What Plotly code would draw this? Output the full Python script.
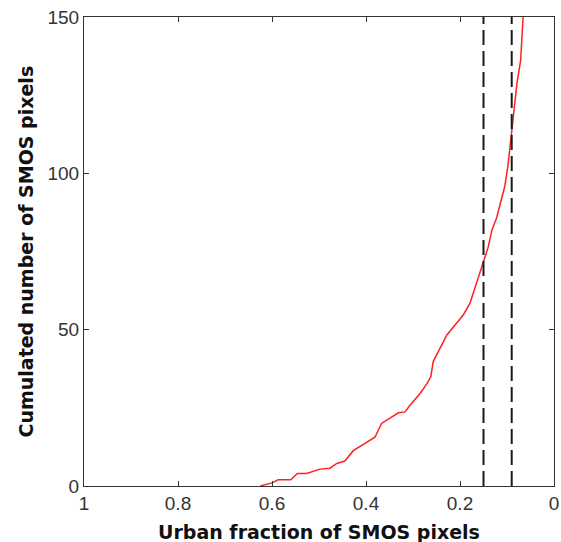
import plotly.graph_objects as go

# Urban fraction (x) and cumulated number of SMOS pixels (y)
urban_fraction = [0.625, 0.60, 0.587, 0.56, 0.546, 0.526, 0.498, 0.477, 0.462, 0.445,
                  0.427, 0.398, 0.381, 0.367, 0.349, 0.331, 0.317, 0.306, 0.285, 0.27,
                  0.262, 0.257, 0.228, 0.214, 0.193, 0.179, 0.164, 0.151, 0.14, 0.132,
                  0.122, 0.1145, 0.105, 0.098, 0.0917, 0.084, 0.0787, 0.071, 0.067, 0.065]
cumulated = [0, 1, 2, 2, 4, 4, 5.4, 5.7, 7.2, 8,
             11.3, 14, 15.6, 20, 21.6, 23.4, 23.7, 25.9, 29.6, 32.8,
             35, 39.8, 48.3, 51, 54.7, 58.4, 65.3, 71.4, 76.4, 81.9,
             85.8, 90.2, 95.7, 102.4, 111.2, 121.1, 128.9, 136.1, 145.5, 152]

thresholds = [0.15, 0.09]
y_span = [0, 150]

x_ticks = [1, 0.8, 0.6, 0.4, 0.2, 0]
x_ticktext = ["1", "0.8", "0.6", "0.4", "0.2", "0"]
y_ticks = [0, 50, 100, 150]
y_ticktext = ["0", "50", "100", "150"]

x_title = "Urban fraction of SMOS pixels"
y_title = "Cumulated number of SMOS pixels"

fig = go.Figure()
fig.add_trace(go.Scatter(x=urban_fraction, y=cumulated, mode="lines",
                         line=dict(color="#ff2020", width=1.5), showlegend=False))
for t in thresholds:
    fig.add_trace(go.Scatter(x=[t, t], y=y_span, mode="lines",
                             line=dict(color="#1a1a1a", width=2, dash="15px,6px"),
                             showlegend=False))

tick_family = "Liberation Sans, Arial, sans-serif"
title_family = "DejaVu Sans, sans-serif"
axis_common = dict(showgrid=False, zeroline=False, showline=True, linecolor="#333333",
                   linewidth=1, mirror="ticks", ticks="inside", ticklen=5,
                   tickcolor="#333333", tickwidth=1, automargin=False,
                   tickfont=dict(family=tick_family, size=19, color="#333333"))

fig.update_layout(
    width=561, height=542,
    margin=dict(l=84, r=7, t=17, b=56),
    plot_bgcolor="white", paper_bgcolor="white",
    xaxis=dict(range=[1, 0], tickvals=x_ticks, ticktext=x_ticktext, **axis_common),
    yaxis=dict(range=[0, 150], tickvals=y_ticks, ticktext=y_ticktext, **axis_common),
    annotations=[
        dict(text="<b>" + x_title + "</b>", xref="paper", yref="paper", x=0.5, y=0,
             xanchor="center", yanchor="middle", yshift=-46, showarrow=False,
             font=dict(family=title_family, size=19, color="#111111")),
        dict(text="<b>" + y_title + "</b>", xref="paper", yref="paper", x=0, y=0.5,
             xanchor="center", yanchor="middle", xshift=-59, textangle=-90, showarrow=False,
             font=dict(family=title_family, size=19, color="#111111")),
    ],
)

fig.write_html("out.html", config={"displayModeBar": False},
               post_script="document.body.style.margin='0';document.body.style.padding='0';")
